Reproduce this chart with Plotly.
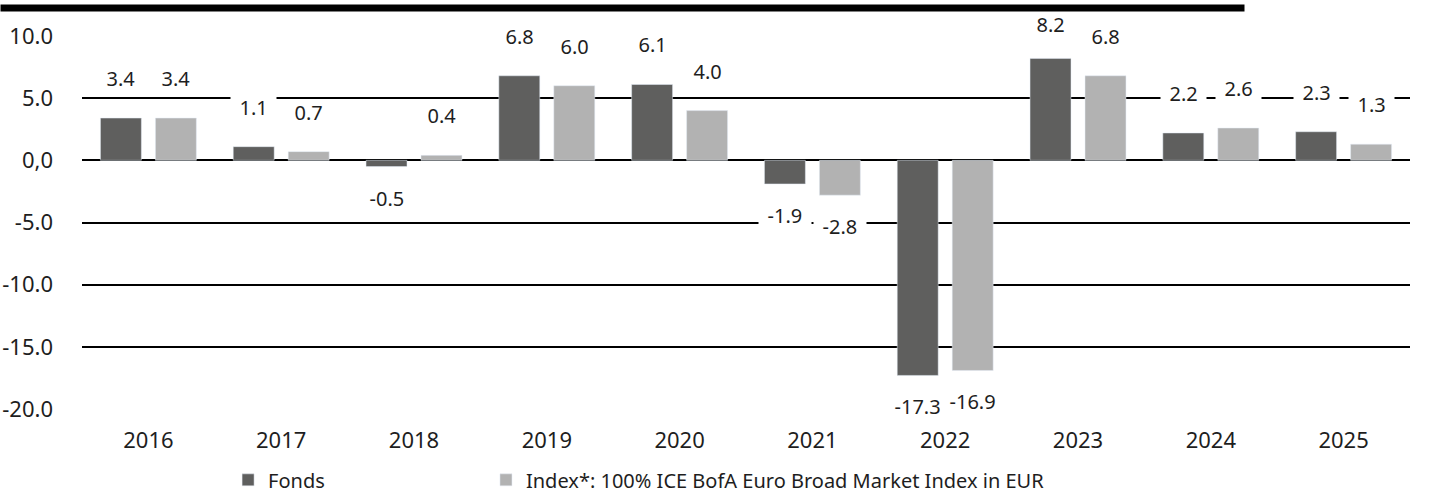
import plotly.graph_objects as go

years = ["2016", "2017", "2018", "2019", "2020", "2021", "2022", "2023", "2024", "2025"]
fonds = [3.4, 1.1, -0.5, 6.8, 6.1, -1.9, -17.3, 8.2, 2.2, 2.3]
index_vals = [3.4, 0.7, 0.4, 6.0, 4.0, -2.8, -16.9, 6.8, 2.6, 1.3]
series_names = ["Fonds", "Index*: 100% ICE BofA Euro Broad Market Index in EUR"]
y_ticks = [10, 5, 0, -5, -10, -15, -20]
y_tick_text = ["10.0", "5.0", "0,0", "-5.0", "-10.0", "-15.0", "-20.0"]

C_FONDS = "#5f5f5e"
C_INDEX = "#b2b2b2"
FONT = "Noto Sans"
TXT = "#1e1e1e"
BARGAP = 0.172
GROUPGAP = 0.255
Y_RANGE = [-20, 10]
W, H = 1432, 493
M = dict(l=82, r=22, t=36, b=84)
px_per_unit = (H - M["t"] - M["b"]) / (Y_RANGE[1] - Y_RANGE[0])

fig = go.Figure()
fig.add_trace(go.Bar(x=years, y=fonds, name=series_names[0], marker_color=C_FONDS,
                     legend="legend"))
fig.add_trace(go.Bar(x=years, y=index_vals, name=series_names[1], marker_color=C_INDEX,
                     legend="legend2"))

off = (1 - BARGAP) / 4
SP = "\u00a0\u2006"
for vals, sgn in ((fonds, -1), (index_vals, 1)):
    for i, v in enumerate(vals):
        if v >= 0:
            # keep labels inside the chart frame (pushed down near the top)
            shift = min(40, 12 + (Y_RANGE[1] - v) * px_per_unit)
        else:
            shift = -31
        fig.add_annotation(
            x=i + sgn * off, y=v, xref="x", yref="y",
            text=f"{SP}{v:.1f}{SP}", showarrow=False,
            yshift=shift, height=24,
            font=dict(family=FONT, size=20, color=TXT),
            bgcolor="white", borderpad=0,
        )

# thick black rule at the top, drawn last so it sits above label boxes
fig.add_annotation(xref="paper", yref="paper", x=-0.0617, y=1.0858,
                   xanchor="left", yanchor="top", text=" ", showarrow=False,
                   width=1243, height=6, borderpad=0, bgcolor="black",
                   font=dict(size=1))

fig.update_layout(
    width=W, height=H,
    margin=dict(**M, autoexpand=False),
    paper_bgcolor="white", plot_bgcolor="white",
    barmode="group", bargap=BARGAP, bargroupgap=GROUPGAP,
    font=dict(family=FONT, size=20, color=TXT),
    showlegend=True,
    legend=dict(orientation="h", x=0.110, xanchor="left", y=-0.19, yanchor="middle",
                font=dict(family=FONT, size=20, color=TXT), bgcolor="rgba(0,0,0,0)"),
    legend2=dict(orientation="h", x=0.3042, xanchor="left", y=-0.19, yanchor="middle",
                 font=dict(family=FONT, size=20, color=TXT), bgcolor="rgba(0,0,0,0)"),
    xaxis=dict(type="category", showgrid=False, zeroline=False, showline=False,
               ticks="", ticklabelstandoff=16, automargin=False,
               tickfont=dict(family=FONT, size=22, color=TXT)),
    yaxis=dict(range=Y_RANGE, tickvals=y_ticks, ticktext=y_tick_text,
               showgrid=True, gridcolor="black", gridwidth=2,
               zeroline=True, zerolinecolor="black", zerolinewidth=2,
               showline=False, ticks="", ticklabelstandoff=28, automargin=False,
               tickfont=dict(family=FONT, size=22, color=TXT)),
)

fig.write_html("out.html", config={"displayModeBar": False},
               post_script="document.body.style.margin='0px';")
